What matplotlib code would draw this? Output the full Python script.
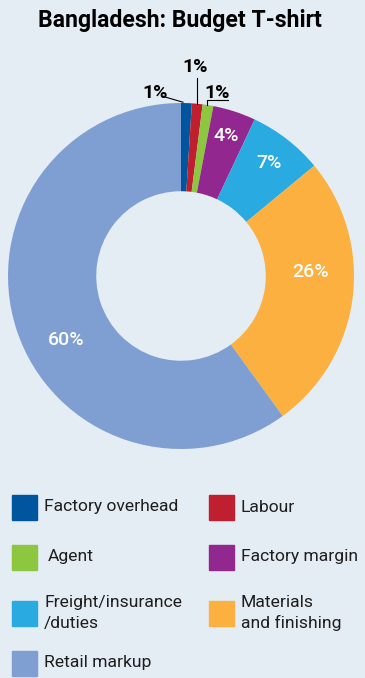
import numpy as np
import matplotlib.pyplot as plt
from matplotlib.patches import Rectangle

plt.rcParams['font.family'] = ['Roboto', 'DejaVu Sans']

categories = ['Factory overhead', 'Labour', 'Agent', 'Factory margin',
              'Freight/insurance\n/duties', 'Materials\nand finishing', 'Retail markup']
shares = [1, 1, 1, 4, 7, 26, 60]
labels = ['1%', '1%', '1%', '4%', '7%', '26%', '60%']
colors = ['#00559f', '#c01f2f', '#8dc63f', '#92278f', '#29abe2', '#fbb040', '#7f9fd3']
bg = '#e4ecf4'

W, H = 365, 678
fig = plt.figure(figsize=(W / 100, H / 100), dpi=100, facecolor=bg)

# donut axes: centre (181, 276) px, radius 173 px
cx, cy, r = 181, 276, 173
ax = fig.add_axes([(cx - r) / W, (H - cy - r) / H, 2 * r / W, 2 * r / H])
ax.set_facecolor(bg)
wedges, _ = ax.pie(shares, colors=colors, startangle=90, counterclock=False,
                   radius=1, wedgeprops=dict(width=0.51, linewidth=0))
ax.set_xlim(-1, 1)
ax.set_ylim(-1, 1)
ax.set_aspect('equal')
ax.axis('off')

# inside labels (radius, angle nudge in degrees)
inside_pos = [None, None, None, (0.85, 0), (0.83, 0), (0.75, 9), (0.76, 11)]
for w, lab, pos in zip(wedges, labels, inside_pos):
    if pos is None:
        continue
    rr, da = pos
    a = np.deg2rad((w.theta1 + w.theta2) / 2 + da)
    ax.text(rr * np.cos(a), rr * np.sin(a), lab, color='white', fontsize=14,
            fontweight='medium', ha='center', va='center')

# outside labels for the three 1% slices
for i, w in enumerate(wedges[:3]):
    a = np.deg2rad((w.theta1 + w.theta2) / 2)
    ex, ey = np.cos(a), np.sin(a)
    if i == 0:
        ax.plot([ex - 0.02, ex - 0.14], [ey + 0.005, ey + 0.04], color='black', lw=0.8,
                clip_on=False)
        ax.text(ex - 0.18, ey + 0.06, labels[i], fontsize=14, fontweight='bold',
                ha='center', va='center')
    elif i == 1:
        ax.plot([ex, ex], [ey, ey + 0.15], color='black', lw=0.8, clip_on=False)
        ax.text(ex - 0.01, ey + 0.21, labels[i], fontsize=14, fontweight='bold',
                ha='center', va='center')
    else:
        ax.plot([ex - 0.005, ex - 0.005, ex + 0.115], [ey, ey + 0.03, ey + 0.03],
                color='black', lw=0.8, clip_on=False)
        ax.text(ex + 0.055, ey + 0.07, labels[i], fontsize=14, fontweight='bold',
                ha='center', va='center')

fig.text(180 / W, 1 - 20 / H, 'Bangladesh: Budget T-shirt', fontsize=16.6,
         fontweight='bold', ha='center', va='center')

# legend, drawn by hand in two columns
col_x = [12, 209]
row_y = [507, 557, 613, 663]
for k, (name, c) in enumerate(zip(categories, colors)):
    x0 = col_x[k % 2]
    y0 = row_y[k // 2]
    fig.patches.append(Rectangle((x0 / W, 1 - (y0 + 12.5) / H), 25 / W, 25 / H,
                                 transform=fig.transFigure, color=c))
    tx = x0 + 32 + (4 if name == 'Agent' else 0)
    fig.text(tx / W, 1 - y0 / H, name, fontsize=12.6, ha='left', va='center',
             color='#1e1e1e', linespacing=1.45)

fig.savefig('out.png', dpi=100, facecolor=bg)
